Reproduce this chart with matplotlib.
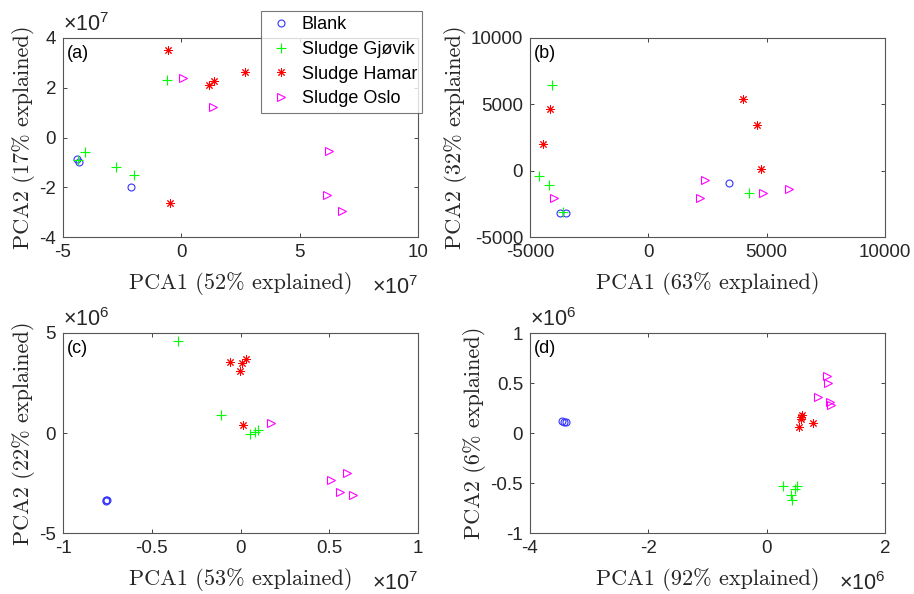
import matplotlib
matplotlib.use('Agg')
import matplotlib.pyplot as plt
from matplotlib.ticker import MultipleLocator, FuncFormatter
from matplotlib.lines import Line2D

plt.rcParams['font.family'] = ['Liberation Sans', 'DejaVu Sans']
plt.rcParams['axes.unicode_minus'] = False
plt.rcParams['mathtext.fontset'] = 'custom'
plt.rcParams['mathtext.rm'] = 'Liberation Sans'
plt.rcParams['mathtext.it'] = 'Liberation Sans:italic'

groups = ['Blank', 'Sludge Gjøvik', 'Sludge Hamar', 'Sludge Oslo']

# panel (a), values in units of 1e7
blank_a_x = [-4.40, -4.33, -2.11]
blank_a_y = [-0.88, -0.97, -1.99]
gjovik_a_x = [-4.37, -4.06, -2.77, -2.00, -0.61]
gjovik_a_y = [-0.90, -0.58, -1.18, -1.52, 2.30]
hamar_a_x = [-0.56, 1.17, 1.38, 2.70, -0.49]
hamar_a_y = [3.53, 2.11, 2.27, 2.62, -2.63]
oslo_a_x = [0.07, 1.34, 6.25, 6.14, 6.80]
oslo_a_y = [2.41, 1.24, -0.53, -2.33, -2.94]

# panel (b)
blank_b_x = [-3732, -3479, 3409]
blank_b_y = [-3221, -3221, -967]
gjovik_b_x = [-4084, -4634, -4183, 4254, -3592]
gjovik_b_y = [6494, -392, -1093, -1694, -3146]
hamar_b_x = [-4155, -4451, 4000, 4606, 4775]
hamar_b_y = [4616, 2012, 5418, 3440, 109]
oslo_b_x = [-4000, 2409, 2183, 4845, 5944]
oslo_b_y = [-2094, -717, -2094, -1694, -1393]

# panel (c), x in 1e7, y in 1e6
blank_c_x = [-0.757, -0.755, -0.753]
blank_c_y = [-3.38, -3.36, -3.37]
gjovik_c_x = [-0.350, -0.108, 0.055, 0.080, 0.099]
gjovik_c_y = [4.62, 0.88, -0.03, 0.07, 0.15]
hamar_c_x = [-0.061, -0.005, 0.008, 0.029, 0.016]
hamar_c_y = [3.55, 3.09, 3.50, 3.70, 0.38]
oslo_c_x = [0.174, 0.512, 0.600, 0.562, 0.636]
oslo_c_y = [0.51, -2.33, -1.99, -2.94, -3.09]

# panel (d), values in 1e6
blank_d_x = [-3.46, -3.43, -3.40]
blank_d_y = [0.12, 0.115, 0.11]
gjovik_d_x = [0.282, 0.411, 0.423, 0.479, 0.518]
gjovik_d_y = [-0.527, -0.617, -0.673, -0.56, -0.533]
hamar_d_x = [0.546, 0.575, 0.592, 0.580, 0.789]
hamar_d_y = [0.057, 0.14, 0.177, 0.16, 0.097]
oslo_d_x = [1.025, 1.042, 0.873, 1.070, 1.087]
oslo_d_y = [0.567, 0.50, 0.357, 0.31, 0.283]

styles = [dict(marker='o', color='#3333ff', mfc='none', ms=5, mew=0.8),
          dict(marker='+', color='#00ff00', ms=6.5, mew=0.8),
          dict(marker=(8, 2, 0), color='r', ms=6, mew=0.7),
          dict(marker='>', color='#ff00ff', mfc='none', ms=5.5, mew=0.8)]

W, H = 914, 594
fig = plt.figure(figsize=(W / 100, H / 100), dpi=100)


def make_ax(l, r, t, b):
    return fig.add_axes([l / W, 1 - b / H, (r - l) / W, (b - t) / H])


def fmt(scale):
    return FuncFormatter(lambda v, p: '%g' % round(v / scale, 6))


panels = [
    dict(box=(63, 418, 38, 237), tag='(a)',
         data=[(blank_a_x, blank_a_y), (gjovik_a_x, gjovik_a_y),
               (hamar_a_x, hamar_a_y), (oslo_a_x, oslo_a_y)],
         sx=1e7, sy=1e7, xlim=(-5, 10), ylim=(-4, 4), xstep=5, ystep=2,
         xl='PCA1 (52% explained)', yl='PCA2 (17% explained)', xe=7, ye=7),
    dict(box=(530, 885, 38, 237), tag='(b)',
         data=[(blank_b_x, blank_b_y), (gjovik_b_x, gjovik_b_y),
               (hamar_b_x, hamar_b_y), (oslo_b_x, oslo_b_y)],
         sx=1, sy=1, xlim=(-5000, 10000), ylim=(-5000, 10000), xstep=5000, ystep=5000,
         xl='PCA1 (63% explained)', yl='PCA2 (32% explained)', xe=None, ye=None),
    dict(box=(63, 418, 333, 533), tag='(c)',
         data=[(blank_c_x, blank_c_y), (gjovik_c_x, gjovik_c_y),
               (hamar_c_x, hamar_c_y), (oslo_c_x, oslo_c_y)],
         sx=1e7, sy=1e6, xlim=(-1, 1), ylim=(-5, 5), xstep=0.5, ystep=5,
         xl='PCA1 (53% explained)', yl='PCA2 (22% explained)', xe=7, ye=6),
    dict(box=(530, 885, 333, 533), tag='(d)',
         data=[(blank_d_x, blank_d_y), (gjovik_d_x, gjovik_d_y),
               (hamar_d_x, hamar_d_y), (oslo_d_x, oslo_d_y)],
         sx=1e6, sy=1e6, xlim=(-4, 2), ylim=(-1, 1), xstep=2, ystep=0.5,
         xl='PCA1 (92% explained)', yl='PCA2 (6% explained)', xe=6, ye=6),
]

for p in panels:
    ax = make_ax(*p['box'])
    for (xs, ys), st in zip(p['data'], styles):
        ax.plot([v * p['sx'] for v in xs], [v * p['sy'] for v in ys],
                linestyle='none', **st)
    ax.set_xlim(p['xlim'][0] * p['sx'], p['xlim'][1] * p['sx'])
    ax.set_ylim(p['ylim'][0] * p['sy'], p['ylim'][1] * p['sy'])
    ax.xaxis.set_major_locator(MultipleLocator(p['xstep'] * p['sx']))
    ax.yaxis.set_major_locator(MultipleLocator(p['ystep'] * p['sy']))
    ax.xaxis.set_major_formatter(fmt(p['sx']))
    ax.yaxis.set_major_formatter(fmt(p['sy']))
    ax.tick_params(direction='in', top=True, right=True, length=3, width=0.6,
                   labelsize=13.5, colors='#262626', pad=5)
    for s in ax.spines.values():
        s.set_color('#555555')
        s.set_linewidth(0.8)
    ax.set_xlabel(p['xl'], family='cmr10', fontsize=16, color='#262626', labelpad=8)
    ax.set_ylabel(p['yl'], family='cmr10', fontsize=16, color='#262626', labelpad=3)
    ax.text(0.012, 0.965, p['tag'], transform=ax.transAxes, ha='left', va='top',
            fontsize=13, color='black')
    if p['ye']:
        ax.text(0.0, 1.01, r'$\times10^{%d}$' % p['ye'], transform=ax.transAxes,
                ha='left', va='bottom', fontsize=15.5, color='#262626')
    if p['xe']:
        ax.text(1.0, -0.195, r'$\times10^{%d}$' % p['xe'], transform=ax.transAxes,
                ha='right', va='top', fontsize=15.5, color='#262626')

handles = [Line2D([], [], linestyle='none', **st) for st in styles]
leg = fig.legend(handles, groups, loc='upper left', bbox_to_anchor=(261 / W, 1 - 11 / H),
                 fontsize=13, frameon=True, fancybox=False, borderpad=0.3,
                 labelspacing=0.42, handletextpad=0.35, handlelength=1.6,
                 borderaxespad=0)
leg.get_frame().set_edgecolor('#555555')
leg.get_frame().set_linewidth(0.8)

fig.savefig('out.png', dpi=100)
